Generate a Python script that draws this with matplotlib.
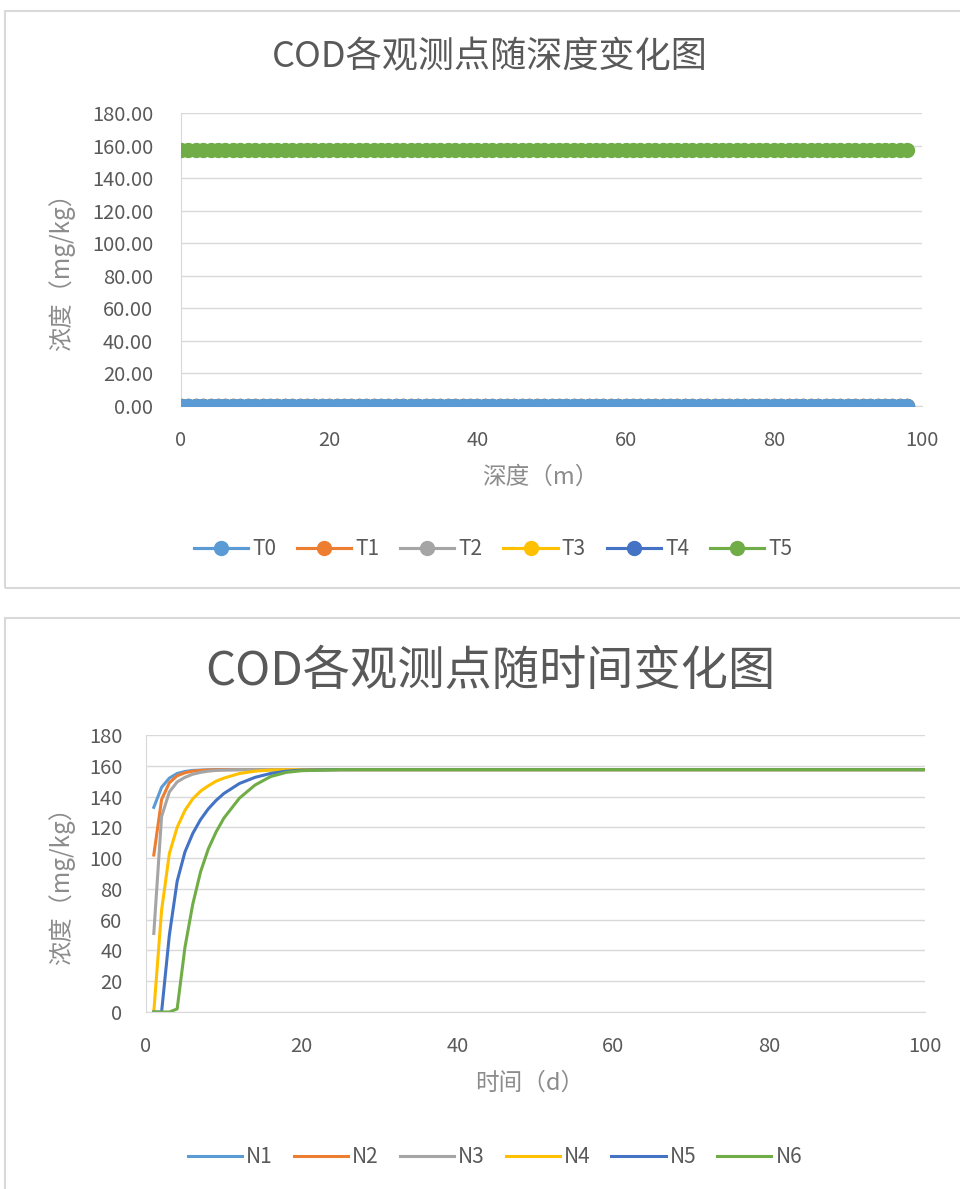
import matplotlib.pyplot as plt
from matplotlib.patches import Rectangle

plt.rcParams['font.family'] = ['Noto Sans CJK SC', 'DejaVu Sans']

# top chart: concentration along depth
depth = list(range(0, 99))
depth_series = ['T0', 'T1', 'T2', 'T3', 'T4', 'T5']
depth_values = {
    'T0': [0.0] * 99,
    'T1': [0.0] * 99,
    'T2': [0.0] * 99,
    'T3': [0.0] * 99,
    'T4': [0.0] * 99,
    'T5': [157.5] * 99,
}

# bottom chart: concentration over time
days = [1, 2, 3, 4, 5, 6, 7, 8, 9, 10, 12, 14, 16, 18, 20, 25, 30, 40, 50, 60, 70, 80, 90, 100]
N1 = [133, 146, 152, 155, 156.3, 157, 157.2, 157.4, 157.5, 157.5, 157.5, 157.5, 157.5, 157.5, 157.5, 157.5, 157.5, 157.5, 157.5, 157.5, 157.5, 157.5, 157.5, 157.5]
N2 = [102, 138, 149, 153.5, 155.5, 156.5, 157, 157.2, 157.4, 157.5, 157.5, 157.5, 157.5, 157.5, 157.5, 157.5, 157.5, 157.5, 157.5, 157.5, 157.5, 157.5, 157.5, 157.5]
N3 = [51, 127, 143, 149.5, 152.5, 154.5, 155.7, 156.5, 157, 157.2, 157.5, 157.5, 157.5, 157.5, 157.5, 157.5, 157.5, 157.5, 157.5, 157.5, 157.5, 157.5, 157.5, 157.5]
N4 = [0, 66, 103, 120, 131, 138.5, 143.5, 147, 150, 152, 155, 156.5, 157.2, 157.4, 157.5, 157.5, 157.5, 157.5, 157.5, 157.5, 157.5, 157.5, 157.5, 157.5]
N5 = [0, 0, 50, 85, 104, 116, 125, 132, 137.5, 142, 148.5, 152.5, 155, 156.5, 157.2, 157.5, 157.5, 157.5, 157.5, 157.5, 157.5, 157.5, 157.5, 157.5]
N6 = [0, 0, 0, 2, 42, 70, 91, 106, 117, 126, 139, 147.5, 153, 155.7, 156.8, 157.5, 157.5, 157.5, 157.5, 157.5, 157.5, 157.5, 157.5, 157.5]
time_series = {'N1': N1, 'N2': N2, 'N3': N3, 'N4': N4, 'N5': N5, 'N6': N6}

colors = ['#5B9BD5', '#ED7D31', '#A5A5A5', '#FFC000', '#4472C4', '#70AD47']
txt = '#595959'
lab = '#8C8C8C'
grid_c = '#D9D9D9'

fig = plt.figure(figsize=(9.6, 11.89), dpi=100)
W, H = 960, 1189


def fx(px):
    return px / W


def fy(py):
    return 1 - py / H


# panel frames
fig.patches.append(Rectangle((fx(5), fy(588)), fx(990) - fx(5), fy(11) - fy(588),
                             transform=fig.transFigure, fill=False, edgecolor=grid_c, lw=1.5))
fig.patches.append(Rectangle((fx(5), fy(1200)), fx(990) - fx(5), fy(618) - fy(1200),
                             transform=fig.transFigure, fill=False, edgecolor=grid_c, lw=1.5))


def style_axes(ax, ypad):
    ax.grid(axis='y', color=grid_c, lw=1)
    ax.set_axisbelow(True)
    for s in ['top', 'right']:
        ax.spines[s].set_visible(False)
    for s in ['left', 'bottom']:
        ax.spines[s].set_color(grid_c)
    ax.tick_params(length=0, colors=txt, labelsize=14.5)
    ax.tick_params(axis='x', pad=17)
    ax.tick_params(axis='y', pad=ypad)


leg_kw = dict(loc='center', ncol=6, frameon=False, fontsize=15, labelcolor=txt,
              handlelength=2.6, handletextpad=0.2, columnspacing=1.0)

# ---- top chart ----
ax1 = fig.add_axes([fx(181), fy(406), fx(922) - fx(181), fy(113) - fy(406)])
order = [1, 2, 3, 4, 0, 5]  # T0 ends up on top of the zero series
for i in order:
    name = depth_series[i]
    ax1.plot(depth, depth_values[name], color=colors[i], marker='o', markersize=10,
             lw=2.25, label=name, zorder=3 + (i == 0))
ax1.set_xlim(0, 100)
ax1.set_ylim(0, 180)
ax1.set_xticks(range(0, 101, 20))
ax1.set_yticks(range(0, 181, 20))
ax1.set_yticklabels([f'{v:.2f}' for v in range(0, 181, 20)])
style_axes(ax1, 20)
fig.text(fx(540), fy(477), '深度（m）', ha='center', va='center', fontsize=17, color=lab)
fig.text(fx(62), fy(266), '浓度（mg/kg）', ha='center', va='center', rotation=90, fontsize=17.5, color=lab)
fig.text(fx(490), fy(57), 'COD各观测点随深度变化图', ha='center', va='center', fontsize=26, color=txt)
h, l = ax1.get_legend_handles_labels()
idx = [l.index(n) for n in depth_series]
fig.legend([h[k] for k in idx], depth_series, bbox_to_anchor=(fx(493), fy(549)), **leg_kw)

# ---- bottom chart ----
ax2 = fig.add_axes([fx(146), fy(1012), fx(925) - fx(146), fy(735) - fy(1012)])
for i, (name, vals) in enumerate(time_series.items()):
    ax2.plot(days, vals, color=colors[i], lw=2.2, label=name)
ax2.set_xlim(0, 100)
ax2.set_ylim(0, 180)
ax2.set_xticks(range(0, 101, 20))
ax2.set_yticks(range(0, 181, 20))
style_axes(ax2, 17)
fig.text(fx(530), fy(1083), '时间（d）', ha='center', va='center', fontsize=17, color=lab)
fig.text(fx(62), fy(880), '浓度（mg/kg）', ha='center', va='center', rotation=90, fontsize=17.5, color=lab)
fig.text(fx(490), fy(672), 'COD各观测点随时间变化图', ha='center', va='center', fontsize=34, color=txt)
fig.legend(*ax2.get_legend_handles_labels(), bbox_to_anchor=(fx(495), fy(1157)), **leg_kw)

fig.savefig('out.png', dpi=100, facecolor='white')
plt.close(fig)
